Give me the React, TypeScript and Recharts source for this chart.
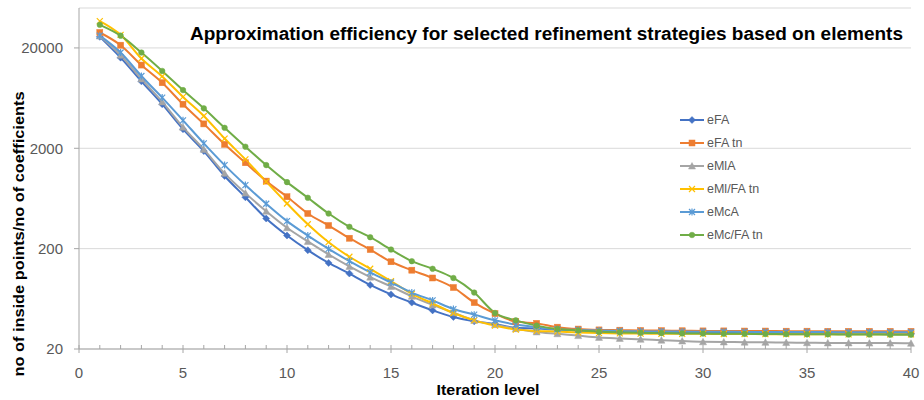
import React from 'react';
import { LineChart, Line, XAxis, YAxis, CartesianGrid, Legend } from 'recharts';

const iterations = [1,2,3,4,5,6,7,8,9,10,11,12,13,14,15,16,17,18,19,20,21,22,23,24,25,26,27,28,29,30,31,32,33,34,35,36,37,38,39,40];

const eFA = [25800,16000,9300,5500,3100,1875,1060,650,399,270,193,144,113,87,70,58,48.5,41.7,37.7,35.5,32.5,32,31.2,30.5,30,29.8,29.6,29.4,29.3,29.2,29.1,29,29,28.9,28.9,28.8,28.8,28.7,28.7,28.6];
const eFAtn = [28500,21300,13500,9000,5500,3500,2190,1436,942,658,448,340,254,196,148,122,102,82,58,45,37.5,36,33,31.6,31,30.8,30.6,30.5,30.4,30.3,30.3,30.2,30.2,30.1,30.1,30,30,30,30,30];
const eMlA = [26300,16900,9800,5800,3250,1950,1125,715,472,323,236,175,133,104,84,67,55,46,38.6,35,31.9,29.6,28.4,27.2,26.1,25.5,25,24.5,24,23.6,23.5,23.4,23.3,23.2,23.1,23,23,22.9,22.9,22.8];
const eMlFAtn = [37000,27000,15700,10400,6500,4200,2500,1550,930,564,350,232,166,126,95,71,57,45.7,38.6,34.2,31.2,30.3,29.8,29.2,28.8,28.6,28.5,28.4,28.3,28.3,28.2,28.2,28.1,28.1,28,28,28,28,28,28];
const eMcA = [26500,18000,10500,6400,3800,2240,1360,860,560,376,270,199,150,116,92,73,61,50,44,38.6,35,33,31.5,31,30.5,30.2,30,29.9,29.8,29.7,29.7,29.6,29.6,29.5,29.5,29.5,29.4,29.4,29.4,29.4];
const eMcFAtn = [34000,26500,18000,11800,7600,5000,3200,2075,1360,920,643,448,330,260,196,150,126,102,73,45.7,38.6,34.2,31.6,30.6,29.7,29.3,29,28.8,28.6,28.5,28.4,28.3,28.2,28.1,28,28,27.9,27.9,27.8,27.8];

const seriesNames = ['eFA', 'eFA tn', 'eMlA', 'eMl/FA tn', 'eMcA', 'eMc/FA tn'];
const seriesValues = [eFA, eFAtn, eMlA, eMlFAtn, eMcA, eMcFAtn];
const seriesColors = ['#4472C4', '#ED7D31', '#A5A5A5', '#FFC000', '#5B9BD5', '#70AD47'];
const seriesMarkers = ['diamond', 'square', 'triangle', 'x', 'star', 'circle'];

const yTicks = [20, 200, 2000, 20000];
const xTicks = [0,1,2,3,4,5,6,7,8,9,10,11,12,13,14,15,16,17,18,19,20,21,22,23,24,25,26,27,28,29,30,31,32,33,34,35,36,37,38,39,40];

const data = iterations.map((x, i) => {
  const row: any = { x };
  seriesNames.forEach((n, s) => { row[n] = seriesValues[s][i]; });
  return row;
});

const FONT = '"Liberation Sans", Arial, sans-serif';
const AXIS = '#A6A6A6';
const TEXT = '#595959';

function Marker({ type, cx, cy, color }: any) {
  if (cx == null || cy == null || isNaN(cx) || isNaN(cy)) return null;
  const r = 3;
  switch (type) {
    case 'diamond':
      return <path d={`M${cx},${cy - 3.5}L${cx + 3.5},${cy}L${cx},${cy + 3.5}L${cx - 3.5},${cy}Z`} fill={color} stroke={color} strokeWidth={0.5} />;
    case 'square':
      return <rect x={cx - r} y={cy - r} width={2 * r} height={2 * r} fill={color} stroke={color} strokeWidth={0.5} />;
    case 'triangle':
      return <path d={`M${cx},${cy - 3.5}L${cx + 3.5},${cy + 3}L${cx - 3.5},${cy + 3}Z`} fill={color} stroke={color} strokeWidth={0.5} />;
    case 'x':
      return <path d={`M${cx - 3},${cy - 3}L${cx + 3},${cy + 3}M${cx - 3},${cy + 3}L${cx + 3},${cy - 3}`} stroke={color} strokeWidth={1.2} fill="none" />;
    case 'star':
      return <path d={`M${cx - 3},${cy - 3}L${cx + 3},${cy + 3}M${cx - 3},${cy + 3}L${cx + 3},${cy - 3}M${cx},${cy - 3.5}L${cx},${cy + 3.5}`} stroke={color} strokeWidth={1.2} fill="none" />;
    default:
      return <circle cx={cx} cy={cy} r={2.8} fill={color} stroke={color} strokeWidth={0.5} />;
  }
}

const makeDot = (s: number) => (props: any) => (
  <Marker key={`d-${s}-${props.index}`} type={seriesMarkers[s]} cx={props.cx} cy={props.cy} color={seriesColors[s]} />
);

const XTick = (props: any) => {
  const { x, y, payload } = props;
  const v = payload.value;
  const major = v % 5 === 0;
  return (
    <g>
      <line x1={x} x2={x} y1={y - 4} y2={major ? y + 4 : y} stroke={AXIS} strokeWidth={1} />
      {major && (
        <text x={x} y={y + 29} textAnchor="middle" fontSize={15} fontFamily={FONT} fill={TEXT}>{v}</text>
      )}
    </g>
  );
};

const LegendContent = () => (
  <div style={{ fontFamily: FONT, fontSize: 12.5, color: TEXT }}>
    {seriesNames.map((n, s) => (
      <div key={n} style={{ height: 23, display: 'flex', alignItems: 'center' }}>
        <svg width={28} height={12} style={{ display: 'block' }}>
          <line x1={2} x2={26} y1={6} y2={6} stroke={seriesColors[s]} strokeWidth={2} />
          <Marker type={seriesMarkers[s]} cx={14} cy={6} color={seriesColors[s]} />
        </svg>
        <span style={{ marginLeft: 1, whiteSpace: 'nowrap' }}>{n}</span>
      </div>
    ))}
  </div>
);

export default function App() {
  return (
    <div style={{ position: 'relative', width: 924, height: 400, background: '#fff' }}>
      <style>{`body{margin:0;background:#fff}`}</style>
      <LineChart width={924} height={400} data={data} margin={{ top: 8, right: 13, bottom: 0, left: 0 }}>
        <CartesianGrid vertical={false} stroke="#D9D9D9" strokeWidth={1} />
        <XAxis
          dataKey="x"
          type="number"
          domain={[0, 40]}
          ticks={xTicks}
          interval={0}
          height={51}
          tickSize={0}
          tickMargin={0}
          tickLine={false}
          stroke={AXIS}
          tick={<XTick />}
        />
        <YAxis
          scale="log"
          domain={[20, 50000]}
          allowDataOverflow
          ticks={yTicks}
          width={79}
          tickSize={5}
          tickMargin={11}
          stroke={AXIS}
          tick={{ fill: TEXT, fontSize: 15, fontFamily: FONT }}
        />
        <Legend
          layout="vertical"
          align="center"
          verticalAlign="middle"
          wrapperStyle={{ position: 'absolute', left: 678, top: 108, width: 160 }}
          content={<LegendContent />}
        />
        {seriesNames.map((n, s) => (
          <Line
            key={n}
            dataKey={n}
            name={n}
            type="monotone"
            stroke={seriesColors[s]}
            strokeWidth={2}
            dot={makeDot(s)}
            activeDot={false}
            isAnimationActive={false}
          />
        ))}
      </LineChart>
      <svg width={924} height={400} style={{ position: 'absolute', left: 0, top: 0, pointerEvents: 'none' }}>
        <text x={190} y={40} fontSize={18} fontWeight="bold" fontFamily={FONT} fill="#000" textLength={713} lengthAdjust="spacingAndGlyphs">
          Approximation efficiency for selected refinement strategies based on elements
        </text>
        <text x={24} y={234} transform="rotate(-90 24 234)" textAnchor="middle" fontSize={15} fontWeight="bold" fontFamily={FONT} fill="#000" textLength={285} lengthAdjust="spacingAndGlyphs">
          no of inside points/no of coefficients
        </text>
        <text x={488} y={395} textAnchor="middle" fontSize={15} fontWeight="bold" fontFamily={FONT} fill="#000" textLength={103} lengthAdjust="spacingAndGlyphs">
          Iteration level
        </text>
      </svg>
    </div>
  );
}
